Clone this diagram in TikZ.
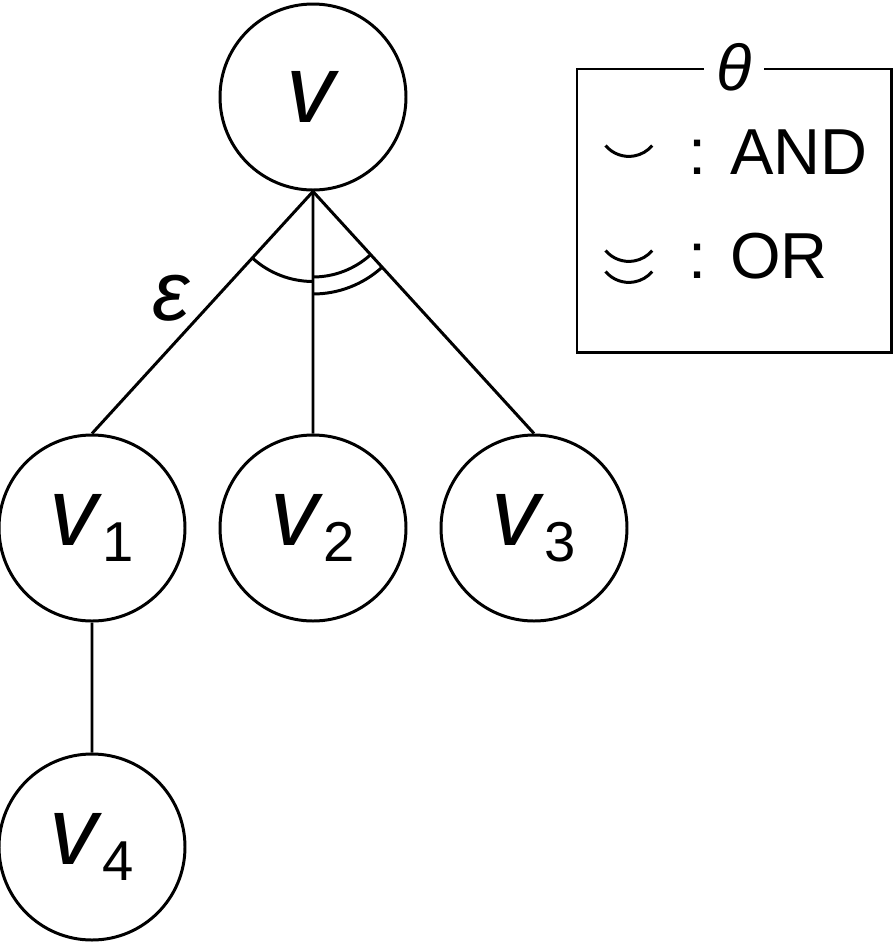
\documentclass[tikz,border=0pt]{standalone}
\usepackage{fontspec}
\setmainfont{Liberation Sans}
\newcommand{\bigfont}{\fontsize{55}{60}\selectfont}
\newcommand{\subfont}{\fontsize{32}{36}\selectfont}
\newcommand{\legfont}{\fontsize{37}{40}\selectfont}
\newcommand{\vsub}[1]{\textit{v}\raisebox{-9pt}{\subfont #1}}

\tikzstyle{vert}=[circle,draw,minimum size=3.72cm,inner sep=0pt,font=\bigfont]
\tikzstyle{legtxt}=[anchor=base west,inner sep=0pt,font=\legfont]

\begin{document}
\begin{tikzpicture}[grow=down, line width=1.7pt, level distance=8.62cm,
parent anchor=south, child anchor=north,
level 1/.style={sibling distance=4.42cm},
level 2/.style={level distance=6.38cm}]
\useasboundingbox (0,0) rectangle (17.88,-18.9);
 \node[vert](v) at (6.26,-1.94) {\textit{v}}
      child {
            node[vert](v1) {\vsub{1}}
            child {
                  node[vert] (v4) {\vsub{4}}
                  edge from parent
            }
            edge from parent
      }
      child {
            node[vert](v2) {\vsub{2}}
            edge from parent
      }
      child {
            node[vert](v3) {\vsub{3}}
            edge from parent
      };

\node[font=\fontsize{48}{52}\selectfont] (eps) at (3.44,-5.96) {\textit{ε}};

% AND arc and OR arcs under v
\draw ([shift={(228:1.8)}]v.south) arc[start angle=228, end angle=270, radius=1.8];
\draw ([shift={(270:1.71)}]v.south) arc[start angle=270, end angle=312, radius=1.71];
\draw ([shift={(270:2.05)}]v.south) arc[start angle=270, end angle=312, radius=2.05];

% legend
\node[draw, minimum width=6.28cm, minimum height=5.66cm, inner sep=0pt] (legend) at (14.68,-4.21) {};
\node[fill=white, inner sep=7pt, font=\legfont] (theta) at (legend.north) {\textit{θ}};
\draw ([shift={(0.6,-1.56)}]legend.north west) arc[start angle=220, end angle=320, radius=0.61];
\draw ([shift={(0.6,-3.66)}]legend.north west) arc[start angle=220, end angle=320, radius=0.61];
\draw ([shift={(0.6,-4.08)}]legend.north west) arc[start angle=220, end angle=320, radius=0.61];
\node[legtxt] (andtxt) at ([shift={(2.22,-2.14)}]legend.north west) {: AND};
\node[legtxt] (ortxt) at ([shift={(2.22,-4.22)}]legend.north west) {: OR};
\end{tikzpicture}
\end{document}
